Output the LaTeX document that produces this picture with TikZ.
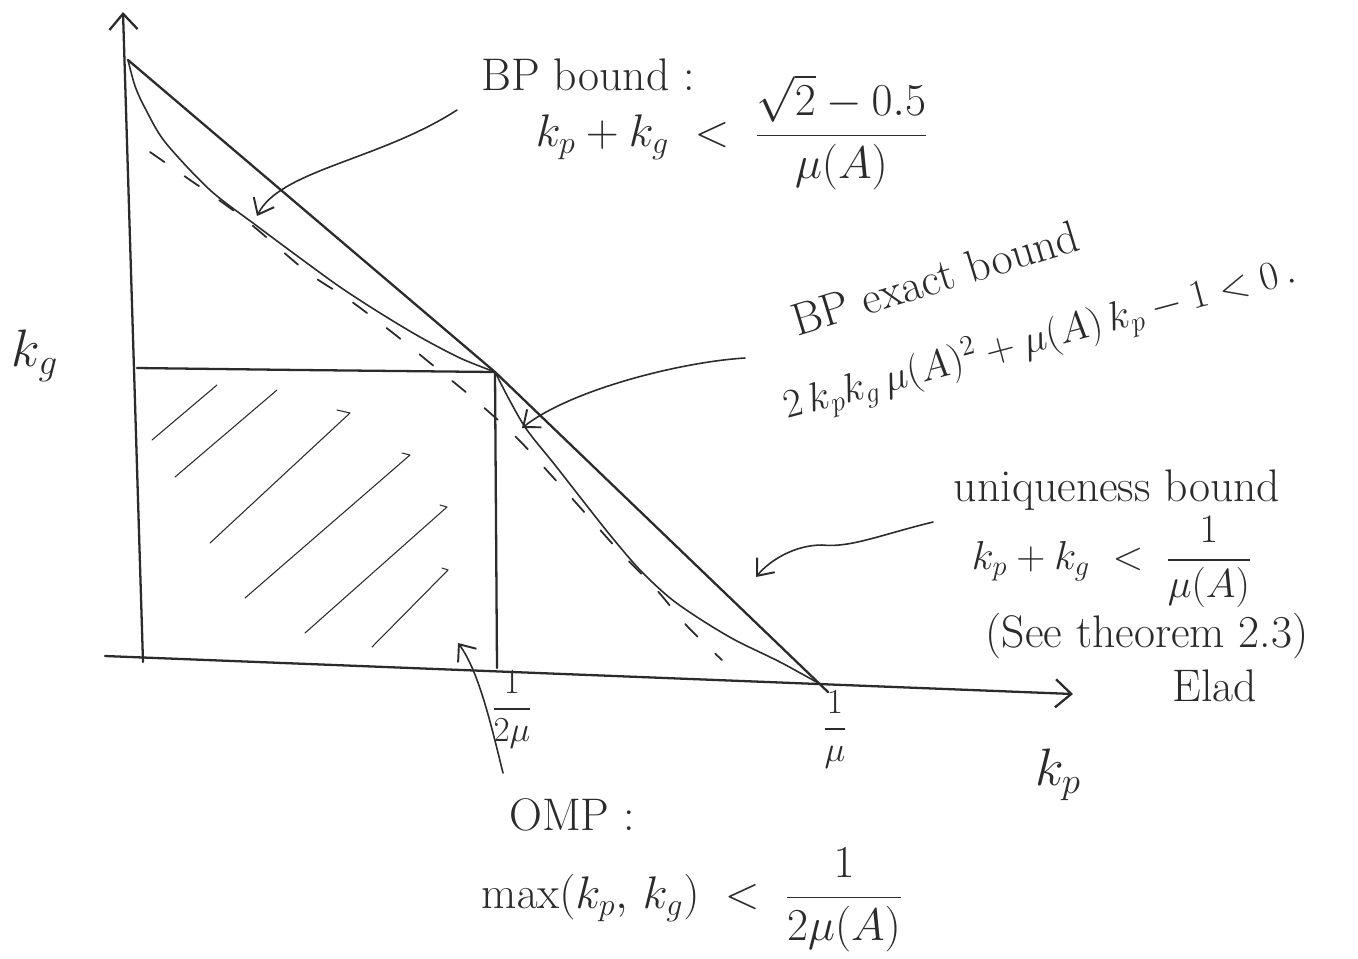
\RequirePackage{fix-cm}
\documentclass[tikz,border=0pt]{standalone}
\usepackage{amsmath}
\usetikzlibrary{arrows.meta}
\definecolor{inkc}{HTML}{2B2B2B}
\newcommand\hwfont{\fontsize{26}{30}\selectfont}
\newcommand\hwmid{\fontsize{23}{26}\selectfont}
\newcommand\hwsmall{\fontsize{20}{22}\selectfont}
\begin{document}
\begin{tikzpicture}[x=0.02cm,y=-0.02cm,
  ink/.style={draw=inkc, line width=1.3pt, line cap=round, line join=round},
  thin ink/.style={draw=inkc, line width=0.9pt, line cap=round, line join=round},
  hatch/.style={draw=inkc, line width=0.6pt, line cap=round, line join=round},
  dashcurve/.style={draw=inkc, line width=1pt, line cap=round, dash pattern=on 10pt off 14pt},
  axisarrow/.style={ink, -{Straight Barb[length=9pt,width=16pt,line width=1.3pt]}},
  notearrow/.style={thin ink, -{Straight Barb[length=8pt,width=13pt,line width=1.1pt]}},
  lbl/.style={text=inkc, inner sep=1pt, font=\hwfont},
  tick/.style={text=inkc, inner sep=1pt, font=\hwsmall}]
\useasboundingbox (0,0) rectangle (1358,958);
\fill[white] (0,0) rectangle (1358,958);

% key points
\coordinate (Ybot) at (143,662);
\coordinate (Ytop) at (123,12);
\coordinate (Xl) at (105,656);
\coordinate (Xr) at (1073,694);
\coordinate (T) at (128,60);
\coordinate (C) at (495,372);
\coordinate (M) at (820,684);
\coordinate (Mx) at (828,692);
\coordinate (Rl) at (137,368);
\coordinate (Rb) at (497,668);

% axes
\draw[axisarrow] (Ybot) -- (Ytop);
\draw[axisarrow] (Xl) -- (Xr);

% uniqueness line (through the corner)
\draw[ink] (T) -- (C) -- (Mx);

% solid BP exact curve (kink at the corner)
\draw[thin ink] plot[smooth, tension=0.5] coordinates {(T) (135,86) (145,108) (165,142) (210,190) (257,226) (300,258) (340,287) (380,313) (420,337) (460,358) (C)};
\draw[thin ink] plot[smooth, tension=0.5] coordinates {(C) (510,401) (527,430) (555,465) (580,497) (610,535) (640,570) (670,598) (700,619) (735,640) (780,662) (M)};

% dashed curve
\draw[dashcurve] plot[smooth, tension=0.6] coordinates {(150,152) (180,173) (242,217) (306,271) (348,299) (393,333) (435,367) (474,399) (515,436) (551,475) (586,514) (620,552) (655,588) (688,627) (722,660)};

% OMP rectangle
\draw[ink] (Rl) -- (300,370) -- (C) -- (496,520) -- (Rb);

% hatching
\draw[hatch] (152,440) -- (217,385);
\draw[hatch] (175,477) -- (277,390);
\draw[hatch] (210,543) -- (350,413) -- (337,410);
\draw[hatch] (245,598) -- (410,455) -- (402,453);
\draw[hatch] (305,633) -- (447,507) -- (440,505);
\draw[hatch] (372,647) -- (448,570) -- (442,568);

% labels
\node[lbl] (bpb) at (588,75) {BP bound :};
\node[lbl] (bpf) at (732,132) {$k_p + k_g \;<\; \dfrac{\sqrt{2}-0.5}{\mu(A)}$};
\node[lbl, rotate=17] (bpe) at (935,278) {BP exact bound};
\node[lbl, font=\hwmid, rotate=15] (bpef) at (1040,340) {$2\,k_p k_g\,\mu(A)^2 + \mu(A)\,k_p - 1 < 0\,.$};
\node[lbl] (ub) at (1117,490) {uniqueness bound};
\node[lbl, font=\hwmid] (ubf) at (1112,562) {$k_p + k_g \;<\; \dfrac{1}{\mu(A)}$};
\node[lbl] (see) at (1147,636) {(See theorem 2.3)};
\node[lbl] (elad) at (1215,686) {Elad};
\node[lbl, font=\fontsize{30}{32}\selectfont] (ky) at (35,356) {$k_g$};
\node[lbl, font=\fontsize{30}{32}\selectfont] (kx) at (1058,775) {$k_p$};
\node[tick] (t2mu) at (512,710) {$\dfrac{1}{2\mu}$};
\node[tick] (tmu) at (835,730) {$\dfrac{1}{\mu}$};
\node[lbl] (omp) at (572,815) {OMP :};
\node[lbl] (ompf) at (692,900) {$\max(k_p,\,k_g) \;<\; \dfrac{1}{2\mu(A)}$};

% annotation arrows
\coordinate (a1s) at (457,110);
\coordinate (a1e) at (257,216);
\draw[notearrow] (a1s) .. controls (380,160) and (280,170) .. (a1e);
\coordinate (a2s) at (745,358);
\coordinate (a2e) at (522,428);
\draw[notearrow] (a2s) .. controls (680,362) and (570,390) .. (a2e);
\coordinate (a3s) at (933,522);
\coordinate (a3m) at (822,545);
\coordinate (a3e) at (756,577);
\draw[notearrow] (a3s) .. controls (880,535) and (850,548) .. (a3m) .. controls (795,545) and (770,560) .. (a3e);
\coordinate (a4s) at (503,773);
\coordinate (a4e) at (458,643);
\draw[notearrow] (a4s) .. controls (490,720) and (478,670) .. (a4e);
\end{tikzpicture}
\end{document}
